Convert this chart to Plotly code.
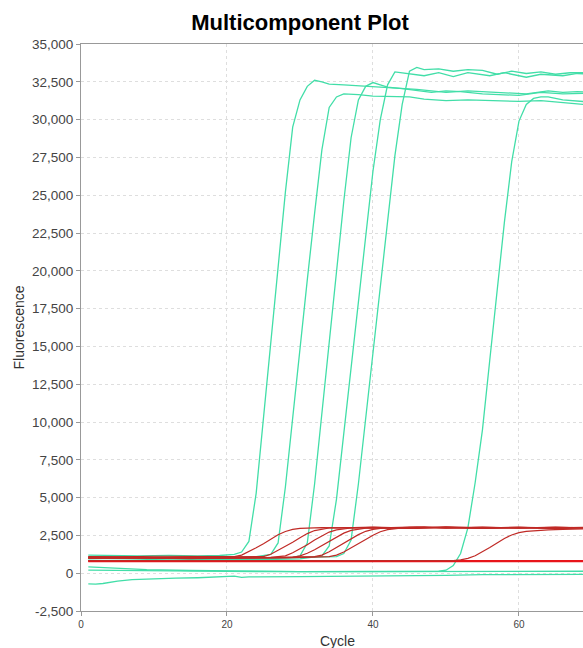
import plotly.graph_objects as go

# ---------------- data (cycle, fluorescence) ----------------
# green (FAM-like) amplifying wells
g1_cyc = [1, 4, 8, 12, 16, 19, 21, 22, 23, 24, 25, 26, 27, 28, 29, 30, 31, 32, 33, 34, 36, 38, 40, 43, 46, 48, 50, 53, 55, 58, 61, 64, 66, 68, 70]
g1_val = [1200, 1170, 1150, 1180, 1140, 1170, 1250, 1400, 2100, 5300, 10300, 15300, 20200, 25200, 29500, 31300, 32200, 32600, 32500, 32350, 32300, 32250, 32200, 32100, 32000, 31900, 31800, 31900, 31850, 31750, 31700, 31900, 31800, 31850, 31800]

g2_cyc = [1, 5, 10, 14, 17, 20, 24, 26, 27, 28, 29, 30, 31, 32, 33, 34, 35, 36, 38, 40, 43, 45, 47, 50, 53, 56, 60, 63, 66, 70]
g2_val = [1100, 1060, 1000, 960, 990, 1040, 1100, 1250, 2000, 5700, 10400, 14900, 19400, 23800, 28000, 30800, 31500, 31700, 31650, 31550, 31500, 31500, 31350, 31250, 31300, 31250, 31200, 31250, 31100, 30950]

g3_cyc = [1, 6, 12, 16, 18, 20, 25, 29, 30, 31, 32, 33, 34, 35, 36, 37, 38, 39, 40, 41, 42, 44, 46, 48, 50, 52, 55, 58, 60, 63, 66, 70]
g3_val = [1000, 960, 1000, 880, 940, 900, 950, 1050, 1150, 2000, 5900, 10600, 15350, 20000, 24600, 28800, 31300, 32200, 32450, 32300, 32150, 32050, 31950, 31800, 31900, 31850, 31700, 31650, 31600, 31800, 31700, 31750]

g4_cyc = [1, 5, 10, 15, 18, 20, 25, 30, 33, 34, 35, 36, 37, 38, 39, 40, 41, 42, 43, 44, 45, 47, 49, 51, 53, 56, 58, 61, 63, 66, 68, 70]
g4_val = [950, 980, 900, 870, 920, 860, 900, 950, 1150, 1800, 4900, 9200, 13600, 18000, 22400, 26600, 30000, 32300, 33150, 33100, 33000, 32900, 33100, 32850, 33100, 32900, 33100, 32800, 33000, 32900, 33050, 33000]

g5_cyc = [1, 5, 10, 15, 20, 25, 30, 35, 36, 37, 38, 39, 40, 41, 42, 43, 44, 45, 46, 47, 49, 51, 53, 55, 57, 59, 61, 63, 65, 67, 70]
g5_val = [1050, 1000, 1060, 960, 1000, 1000, 1050, 1100, 1300, 2200, 5900, 10300, 14700, 19100, 23500, 27600, 31000, 33200, 33450, 33300, 33350, 33200, 33300, 33250, 33000, 33200, 33050, 33150, 33000, 33100, 33100]

g6_cyc = [1, 10, 20, 30, 40, 48, 49, 50, 51, 52, 53, 54, 55, 56, 57, 58, 59, 60, 61, 62, 63, 64, 66, 68, 70]
g6_val = [200, 150, 120, 100, 100, 110, 130, 200, 500, 1300, 3000, 6000, 9500, 14100, 18700, 23200, 27200, 29900, 31000, 31400, 31500, 31500, 31300, 31250, 31150]

# green non-amplifying wells
n1_cyc = [1, 5, 9, 15, 20, 30, 40, 50, 60, 70]
n1_val = [420, 330, 240, 180, 150, 100, 110, 120, 130, 130]

n2_cyc = [1, 2, 3, 5, 7, 10, 13, 16, 19, 21, 22, 23, 30, 40, 45, 50, 55, 60, 70]
n2_val = [-700, -720, -680, -520, -420, -360, -330, -300, -240, -200, -280, -240, -230, -200, -170, -150, -100, -90, -80]

# red flat wells
rf1_cyc = [1, 10, 20, 30, 40, 50, 60, 70]
rf1_val = [815, 805, 815, 805, 810, 805, 810, 805]
rf2_cyc = [1, 10, 20, 30, 40, 50, 60, 70]
rf2_val = [790, 785, 795, 790, 785, 790, 785, 790]

# red amplifying wells
r1_cyc = [1, 5, 10, 15, 19, 21, 22, 23, 24, 25, 26, 27, 28, 29, 30, 31, 33, 36, 40, 45, 50, 55, 60, 65, 70]
r1_val = [1100, 1080, 1120, 1090, 1100, 1100, 1200, 1420, 1680, 1950, 2260, 2540, 2760, 2900, 2970, 3000, 3020, 3000, 3050, 2980, 3050, 3000, 3030, 2980, 3020]

r2_cyc = [1, 6, 12, 18, 23, 25, 26, 27, 28, 29, 30, 31, 32, 33, 34, 36, 40, 45, 50, 55, 60, 65, 70]
r2_val = [1050, 1080, 1040, 1070, 1050, 1100, 1250, 1500, 1750, 2050, 2350, 2620, 2820, 2930, 2990, 3020, 2980, 3050, 3000, 3050, 2980, 3030, 3000]

r3_cyc = [1, 7, 13, 19, 26, 27, 28, 29, 30, 31, 32, 33, 34, 35, 36, 37, 40, 45, 50, 55, 60, 65, 70]
r3_val = [1020, 1000, 1040, 1010, 1050, 1080, 1150, 1350, 1600, 1880, 2200, 2480, 2720, 2870, 2950, 2990, 3030, 2970, 3060, 2990, 3040, 3000, 3050]

r4_cyc = [1, 8, 15, 22, 29, 30, 31, 32, 33, 34, 35, 36, 37, 38, 39, 42, 46, 50, 55, 60, 65, 70]
r4_val = [980, 1000, 960, 990, 1050, 1150, 1320, 1550, 1830, 2110, 2400, 2650, 2830, 2930, 2980, 3010, 2960, 3040, 2970, 3010, 2960, 3000]

r5_cyc = [1, 9, 17, 25, 32, 33, 34, 35, 36, 37, 38, 39, 40, 41, 43, 46, 50, 55, 60, 65, 70]
r5_val = [1060, 1030, 1070, 1040, 1100, 1200, 1420, 1700, 1970, 2270, 2550, 2770, 2900, 2970, 3000, 3050, 2980, 3040, 2990, 3050, 2990]

r6_cyc = [1, 10, 20, 28, 34, 35, 36, 37, 38, 39, 40, 41, 42, 43, 44, 47, 50, 55, 60, 65, 70]
r6_val = [1000, 1020, 990, 1010, 1100, 1200, 1400, 1660, 1930, 2230, 2510, 2740, 2880, 2960, 3000, 3060, 3000, 2960, 3030, 2970, 3020]

r7_cyc = [1, 10, 20, 30, 40, 51, 52, 53, 54, 55, 56, 57, 58, 59, 60, 61, 62, 64, 66, 68, 70]
r7_val = [830, 825, 830, 825, 830, 830, 880, 980, 1150, 1400, 1700, 2000, 2300, 2530, 2680, 2760, 2810, 2870, 2900, 2930, 2950]

y_ticks = [-2500, 0, 2500, 5000, 7500, 10000, 12500, 15000, 17500, 20000, 22500, 25000, 27500, 30000, 32500, 35000]
y_labels = ["-2,500", "0", "2,500", "5,000", "7,500", "10,000", "12,500", "15,000", "17,500", "20,000", "22,500", "25,000", "27,500", "30,000", "32,500", "35,000"]
x_ticks = [0, 20, 40, 60]
x_labels = ["0", "20", "40", "60"]

GREEN = "#42dea8"
RED_THIN = "#c02a26"
RED_FLAT = "#e8141b"

green_series = [
    (n1_cyc, n1_val), (n2_cyc, n2_val), (g6_cyc, g6_val),
    (g1_cyc, g1_val), (g2_cyc, g2_val), (g3_cyc, g3_val),
    (g4_cyc, g4_val), (g5_cyc, g5_val),
]
red_flat_series = [(rf1_cyc, rf1_val), (rf2_cyc, rf2_val)]
red_series = [
    (r1_cyc, r1_val), (r2_cyc, r2_val), (r3_cyc, r3_val),
    (r4_cyc, r4_val), (r5_cyc, r5_val), (r6_cyc, r6_val), (r7_cyc, r7_val),
]

fig = go.Figure()
for cx, vy in green_series:
    fig.add_trace(go.Scatter(x=cx, y=vy, mode="lines",
                             line=dict(color=GREEN, width=1.3), hoverinfo="skip"))
for cx, vy in red_flat_series:
    fig.add_trace(go.Scatter(x=cx, y=vy, mode="lines",
                             line=dict(color=RED_FLAT, width=2), hoverinfo="skip"))
for cx, vy in red_series:
    fig.add_trace(go.Scatter(x=cx, y=vy, mode="lines",
                             line=dict(color=RED_THIN, width=1.2), hoverinfo="skip"))

FONT = "Liberation Sans, Arial, sans-serif"

fig.update_layout(
    width=583, height=648,
    margin=dict(l=81, r=0, t=44, b=37),
    plot_bgcolor="white", paper_bgcolor="white",
    showlegend=False,
    font=dict(family=FONT, color="#333333"),
    title=dict(text="<b>Multicomponent Plot</b>", x=300 / 583, xref="container", xanchor="center",
               y=1 - 22 / 648, yref="container", yanchor="middle",
               font=dict(family=FONT, size=22, color="#000000")),
    xaxis=dict(range=[0, 68.77], tickmode="array", tickvals=x_ticks, ticktext=x_labels,
               showgrid=True, gridcolor="#dedede", griddash="dot", gridwidth=1,
               showline=True, linecolor="#999999", linewidth=1, mirror=True,
               ticks="outside", ticklen=4, tickcolor="#999999",
               tickfont=dict(size=10, color="#444444"), zeroline=False),
    yaxis=dict(range=[-2500, 35000], tickmode="array", tickvals=y_ticks, ticktext=y_labels,
               showgrid=True, gridcolor="#dedede", griddash="dot", gridwidth=1,
               showline=True, linecolor="#999999", linewidth=1,
               ticks="outside", ticklen=4, tickcolor="#999999",
               tickfont=dict(size=13.5, color="#444444"), zeroline=False),
    annotations=[
        dict(text="Fluorescence", xref="paper", yref="paper", x=(18 - 81) / 502, y=0.5,
             textangle=-90, showarrow=False, xanchor="center", yanchor="middle",
             font=dict(family=FONT, size=14, color="#333333")),
        dict(text="Cycle", xref="paper", yref="paper", x=(337 - 81) / 502, y=-(641 - 611) / 567,
             showarrow=False, xanchor="center", yanchor="middle",
             font=dict(family=FONT, size=14, color="#333333")),
    ],
)

fig.write_html("out.html")
